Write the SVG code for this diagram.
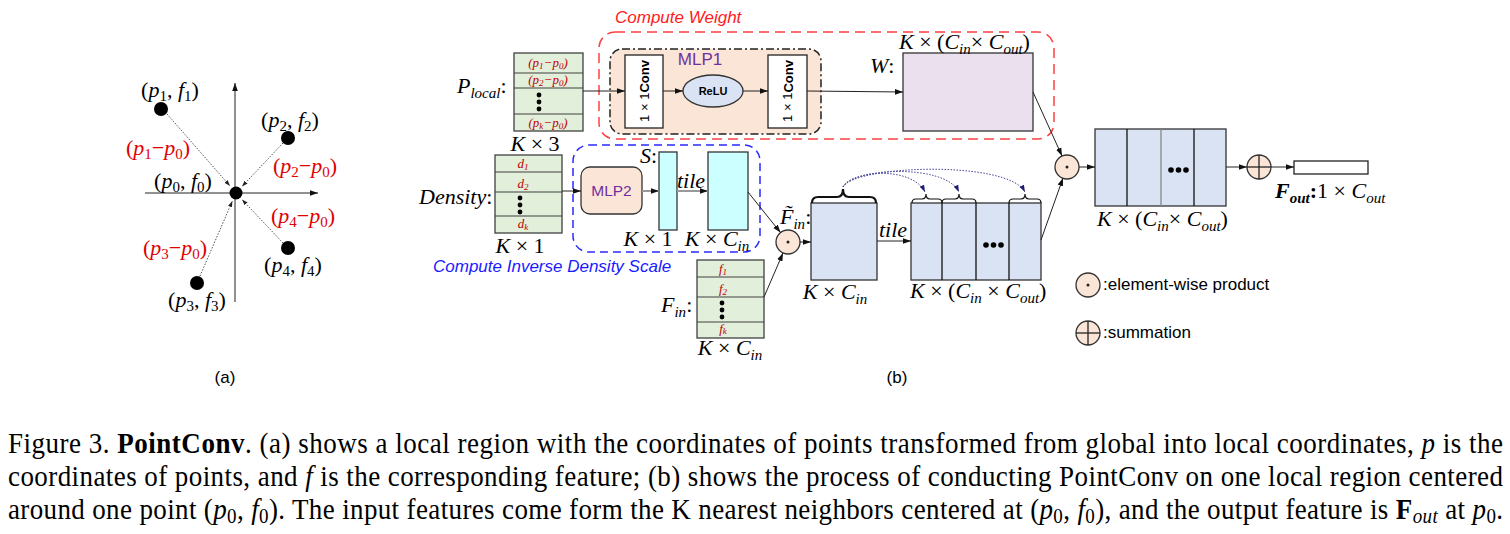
<svg xmlns="http://www.w3.org/2000/svg" width="1510" height="534" viewBox="0 0 1510 534">
<style>
.s{font-family:"Liberation Sans",Arial,sans-serif}
.m{font-family:"Liberation Serif","Times New Roman",serif;font-size:22px;fill:#000}
.i{font-style:italic}
.sb{font-size:15px}
.red{fill:#e00000}
.mx{fill:#e2efda;stroke:#404040;stroke-width:1.3}
.rl{stroke:#404040;stroke-width:1.1}
.mr{fill:#c00000;font-family:"Liberation Serif","Times New Roman",serif;font-style:italic;font-size:13px;text-anchor:middle}
.ar{stroke:#222;stroke-width:1;fill:none;marker-end:url(#ah)}
.ga{stroke:#999;stroke-width:2;fill:none;marker-end:url(#ah)}
.da{stroke:#555;stroke-width:1;stroke-dasharray:1.5 1.5;fill:none;marker-end:url(#sa)}
.cu{stroke:#45459a;stroke-width:1;stroke-dasharray:1.5 1.5;fill:none;marker-end:url(#na)}
.op{fill:#fbe5d6;stroke:#333;stroke-width:1.3}
.lb{fill:#dae3f3;stroke:#333;stroke-width:1.3}
.cy{fill:#ccffff;stroke:#333;stroke-width:1.3}
.dv{stroke:#111;stroke-width:1.3}
.br{fill:none;stroke:#111}
.cap{font-family:"Liberation Serif","Times New Roman",serif;font-size:27px;fill:#000}
.cs{font-size:19px}
</style>
<defs>
<marker id="ah" viewBox="0 0 10 10" refX="10" refY="5" markerWidth="8" markerHeight="8" markerUnits="userSpaceOnUse" orient="auto"><path d="M0,1.5 L10,5 L0,8.5 z" fill="#111"/></marker>
<marker id="sa" viewBox="0 0 10 10" refX="10" refY="5" markerWidth="6" markerHeight="6" markerUnits="userSpaceOnUse" orient="auto"><path d="M0,1.5 L10,5 L0,8.5 z" fill="#222"/></marker>
<marker id="na" viewBox="0 0 10 10" refX="10" refY="5" markerWidth="7" markerHeight="7" markerUnits="userSpaceOnUse" orient="auto"><path d="M0,1.5 L10,5 L0,8.5 z" fill="#1c1c70"/></marker>
</defs>
<rect width="1510" height="534" fill="#fff"/>

<!-- ===== (a) ===== -->
<g id="part-a">
  <g id="a-axes">
    <line class="ar" x1="235" y1="302" x2="235" y2="83" stroke="#444"/>
    <line class="ar" x1="145" y1="193" x2="318" y2="193" stroke="#444"/>
  </g>
  <g id="a-connectors">
    <line class="da" x1="167" y1="114" x2="230" y2="186"/>
    <line class="da" x1="283" y1="143" x2="242" y2="186.5"/>
    <line class="da" x1="283" y1="243" x2="242" y2="199.5"/>
    <line class="da" x1="200" y1="276" x2="232.4" y2="201"/>
  </g>
  <g id="a-p0"><circle cx="236" cy="193" r="6.5" fill="#000"/>
    <text class="m" x="183" y="188" text-anchor="middle">(<tspan class="i">p</tspan><tspan class="sb" dy="4">0</tspan><tspan dy="-4">, </tspan><tspan class="i">f</tspan><tspan class="sb" dy="4">0</tspan><tspan dy="-4">)</tspan></text></g>
  <g id="a-p1"><circle cx="161" cy="109" r="7" fill="#000"/>
    <text class="m" x="170" y="97" text-anchor="middle">(<tspan class="i">p</tspan><tspan class="sb" dy="4">1</tspan><tspan dy="-4">, </tspan><tspan class="i">f</tspan><tspan class="sb" dy="4">1</tspan><tspan dy="-4">)</tspan></text>
    <text class="m red" x="158" y="155" text-anchor="middle">(<tspan class="i">p</tspan><tspan class="sb" dy="4">1</tspan><tspan dy="-4">−</tspan><tspan class="i">p</tspan><tspan class="sb" dy="4">0</tspan><tspan dy="-4">)</tspan></text></g>
  <g id="a-p2"><circle cx="288" cy="138" r="7" fill="#000"/>
    <text class="m" x="290" y="127" text-anchor="middle">(<tspan class="i">p</tspan><tspan class="sb" dy="4">2</tspan><tspan dy="-4">, </tspan><tspan class="i">f</tspan><tspan class="sb" dy="4">2</tspan><tspan dy="-4">)</tspan></text>
    <text class="m red" x="305" y="173" text-anchor="middle">(<tspan class="i">p</tspan><tspan class="sb" dy="4">2</tspan><tspan dy="-4">−</tspan><tspan class="i">p</tspan><tspan class="sb" dy="4">0</tspan><tspan dy="-4">)</tspan></text></g>
  <g id="a-p4"><circle cx="288" cy="248" r="7" fill="#000"/>
    <text class="m" x="293" y="272" text-anchor="middle">(<tspan class="i">p</tspan><tspan class="sb" dy="4">4</tspan><tspan dy="-4">, </tspan><tspan class="i">f</tspan><tspan class="sb" dy="4">4</tspan><tspan dy="-4">)</tspan></text>
    <text class="m red" x="303" y="223" text-anchor="middle">(<tspan class="i">p</tspan><tspan class="sb" dy="4">4</tspan><tspan dy="-4">−</tspan><tspan class="i">p</tspan><tspan class="sb" dy="4">0</tspan><tspan dy="-4">)</tspan></text></g>
  <g id="a-p3"><circle cx="197" cy="283" r="7" fill="#000"/>
    <text class="m" x="197" y="307" text-anchor="middle">(<tspan class="i">p</tspan><tspan class="sb" dy="4">3</tspan><tspan dy="-4">, </tspan><tspan class="i">f</tspan><tspan class="sb" dy="4">3</tspan><tspan dy="-4">)</tspan></text>
    <text class="m red" x="175" y="255" text-anchor="middle">(<tspan class="i">p</tspan><tspan class="sb" dy="4">3</tspan><tspan dy="-4">−</tspan><tspan class="i">p</tspan><tspan class="sb" dy="4">0</tspan><tspan dy="-4">)</tspan></text></g>
  <text class="s" x="225" y="383" font-size="17" text-anchor="middle">(a)</text>
</g>

<!-- ===== (b) ===== -->
<g id="compute-weight-box">
  <rect x="599" y="32" width="455" height="107" rx="16" fill="none" stroke="#ff4040" stroke-width="1.5" stroke-dasharray="10 6"/>
  <text class="s i" x="615" y="23" font-size="17" fill="#ff1a1a">Compute Weight</text>
</g>
<g id="inverse-density-box">
  <rect x="573" y="145" width="187" height="107" rx="16" fill="none" stroke="#2a2aff" stroke-width="1.5" stroke-dasharray="8 5"/>
  <text class="s i" x="433" y="272" font-size="17" fill="#1a1aff">Compute Inverse Density Scale</text>
</g>

<g id="mlp1">
  <rect x="610" y="49" width="211" height="85" rx="12" fill="#fbe5d6" stroke="#222" stroke-width="1.5" stroke-dasharray="8 3 2 3"/>
  <text class="s" x="700" y="65" font-size="17" fill="#7030a0" text-anchor="middle">MLP1</text>
</g>
<g id="conv1">
  <rect x="625" y="55" width="38" height="73" fill="#fff" stroke="#222" stroke-width="1.3"/>
  <text class="s" transform="translate(644,91) rotate(-90)" font-size="13" text-anchor="middle" dominant-baseline="central">1 × 1<tspan font-weight="bold">Conv</tspan></text>
</g>
<g id="relu">
  <ellipse cx="713" cy="91" rx="30" ry="16" class="lb"/>
  <text class="s" x="713" y="95" font-size="11" font-weight="bold" text-anchor="middle">ReLU</text>
</g>
<g id="conv2">
  <rect x="768" y="55" width="39" height="73" fill="#fff" stroke="#222" stroke-width="1.3"/>
  <text class="s" transform="translate(787.5,91) rotate(-90)" font-size="13" text-anchor="middle" dominant-baseline="central">1 × 1<tspan font-weight="bold">Conv</tspan></text>
</g>
<g id="W">
  <rect x="903" y="53" width="130" height="78" fill="#ebe1ee" stroke="#333" stroke-width="1.3"/>
  <text class="m" x="870" y="73"><tspan class="i">W</tspan>:</text>
  <text class="m" x="899" y="49"><tspan class="i">K</tspan> × (<tspan class="i">C</tspan><tspan class="sb i" dy="5">in</tspan><tspan dy="-5">× </tspan><tspan class="i">C</tspan><tspan class="sb i" dy="5">out</tspan><tspan dy="-5">)</tspan></text>
</g>

<g id="P_local">
  <rect x="514" y="53" width="69" height="78" class="mx"/>
  <line class="rl" x1="514" y1="73" x2="583" y2="73"/>
  <line class="rl" x1="514" y1="88" x2="583" y2="88"/>
  <line class="rl" x1="514" y1="114" x2="583" y2="114"/>
  <text class="mr" x="548" y="67">(p<tspan font-size="9" dy="2">1</tspan><tspan dy="-2">−p</tspan><tspan font-size="9" dy="2">0</tspan><tspan dy="-2">)</tspan></text>
  <text class="mr" x="548" y="84">(p<tspan font-size="9" dy="2">2</tspan><tspan dy="-2">−p</tspan><tspan font-size="9" dy="2">0</tspan><tspan dy="-2">)</tspan></text>
  <text class="mr" x="548" y="127">(p<tspan font-size="9" dy="2">k</tspan><tspan dy="-2">−p</tspan><tspan font-size="9" dy="2">0</tspan><tspan dy="-2">)</tspan></text>
  <circle cx="539" cy="95" r="2.4"/><circle cx="539" cy="102" r="2.4"/><circle cx="539" cy="109" r="2.4"/>
  <text class="m" x="457" y="93"><tspan class="i">P</tspan><tspan class="sb i" dy="5">local</tspan><tspan dy="-5">:</tspan></text>
  <text class="m" x="535" y="151" text-anchor="middle"><tspan class="i">K</tspan> × 3</text>
</g>

<g id="Density">
  <rect x="495" y="155" width="67" height="78" class="mx"/>
  <line class="rl" x1="495" y1="172" x2="562" y2="172"/>
  <line class="rl" x1="495" y1="192" x2="562" y2="192"/>
  <line class="rl" x1="495" y1="216" x2="562" y2="216"/>
  <text class="mr" x="523" y="168">d<tspan font-size="9" dy="2">1</tspan></text>
  <text class="mr" x="523" y="188">d<tspan font-size="9" dy="2">2</tspan></text>
  <text class="mr" x="523" y="228">d<tspan font-size="9" dy="2">k</tspan></text>
  <circle cx="520" cy="198" r="2.4"/><circle cx="520" cy="205" r="2.4"/><circle cx="520" cy="212" r="2.4"/>
  <text class="m" x="419" y="204"><tspan class="i">Density</tspan>:</text>
  <text class="m" x="520" y="253" text-anchor="middle"><tspan class="i">K</tspan> × 1</text>
</g>

<g id="mlp2">
  <rect x="581" y="167" width="61" height="47" rx="9" class="op"/>
  <text class="s" x="611.5" y="196" font-size="15.5" fill="#7030a0" text-anchor="middle">MLP2</text>
</g>
<g id="S">
  <rect x="659" y="152" width="18" height="78" class="cy"/>
  <text class="m" x="640" y="163"><tspan class="i">S</tspan>:</text>
  <text class="m" x="648" y="246" text-anchor="middle"><tspan class="i">K</tspan> × 1</text>
</g>
<g id="S-tiled">
  <rect x="708" y="152" width="40" height="78" class="cy"/>
  <text class="m i" x="677" y="188">tile</text>
  <text class="m" x="717" y="246" text-anchor="middle"><tspan class="i">K</tspan> × <tspan class="i">C</tspan><tspan class="sb i" dy="5">in</tspan></text>
</g>

<g id="F_in">
  <rect x="697" y="260" width="67" height="78" class="mx"/>
  <line class="rl" x1="697" y1="277" x2="764" y2="277"/>
  <line class="rl" x1="697" y1="297" x2="764" y2="297"/>
  <line class="rl" x1="697" y1="322" x2="764" y2="322"/>
  <text class="mr" x="723" y="273">f<tspan font-size="9" dy="2">1</tspan></text>
  <text class="mr" x="723" y="293">f<tspan font-size="9" dy="2">2</tspan></text>
  <text class="mr" x="723" y="333">f<tspan font-size="9" dy="1">k</tspan></text>
  <circle cx="722" cy="303" r="2.4"/><circle cx="722" cy="310" r="2.4"/><circle cx="722" cy="317" r="2.4"/>
  <text class="m" x="661" y="312"><tspan class="i">F</tspan><tspan class="sb i" dy="5">in</tspan><tspan dy="-5">:</tspan></text>
  <text class="m" x="730" y="355" text-anchor="middle"><tspan class="i">K</tspan> × <tspan class="i">C</tspan><tspan class="sb i" dy="5">in</tspan></text>
</g>

<g id="prod1">
  <circle cx="788" cy="242" r="12" class="op"/><circle cx="788" cy="242" r="1.5" fill="#222"/>
</g>

<g id="F_tilde">
  <rect x="811" y="203" width="66" height="77" class="lb"/>
  <path class="br" stroke-width="2.2" d="M812,203 Q812,197 818,197 L837,197 Q843,197 843,189 Q843,197 849,197 L870,197 Q876,197 876,203"/>
  <text class="m" x="780" y="224"><tspan class="i">F̃</tspan><tspan class="sb i" dy="5">in</tspan><tspan dy="-5">:</tspan></text>
  <text class="m" x="835" y="299" text-anchor="middle"><tspan class="i">K</tspan> × <tspan class="i">C</tspan><tspan class="sb i" dy="5">in</tspan></text>
</g>

<g id="tiled">
  <rect x="911" y="203" width="130" height="77" class="lb"/>
  <line class="dv" x1="942" y1="203" x2="942" y2="280"/>
  <line class="dv" x1="976" y1="203" x2="976" y2="280"/>
  <line class="dv" x1="1009" y1="203" x2="1009" y2="280"/>
  <circle cx="986" cy="245" r="2.8"/><circle cx="993.5" cy="245" r="2.8"/><circle cx="1001" cy="245" r="2.8"/>
  <path class="br" stroke-width="1.2" d="M912,203 Q912,199 916,199 L922,199 Q926,199 926,194 Q926,199 930,199 L938,199 Q942,199 942,203"/>
  <path class="br" stroke-width="1.2" d="M942,203 Q942,199 946,199 L955,199 Q959,199 959,194 Q959,199 963,199 L972,199 Q976,199 976,203"/>
  <path class="br" stroke-width="1.2" d="M1009,203 Q1009,199 1013,199 L1021,199 Q1025,199 1025,194 Q1025,199 1029,199 L1037,199 Q1041,199 1041,203"/>
  <text class="m i" x="879" y="237">tile</text>
  <text class="m" x="910" y="298"><tspan class="i">K</tspan> × (<tspan class="i">C</tspan><tspan class="sb i" dy="5">in</tspan><tspan dy="-5"> × </tspan><tspan class="i">C</tspan><tspan class="sb i" dy="5">out</tspan><tspan dy="-5">)</tspan></text>
</g>

<g id="prod2">
  <circle cx="1067" cy="167" r="12" class="op"/><circle cx="1067" cy="167" r="1.5" fill="#222"/>
</g>

<g id="weighted">
  <rect x="1095" y="129" width="131" height="77" class="lb"/>
  <line class="dv" x1="1127" y1="129" x2="1127" y2="206"/>
  <line x1="1161" y1="129" x2="1161" y2="206" stroke="#888" stroke-width="1.3"/>
  <line class="dv" x1="1194" y1="129" x2="1194" y2="206"/>
  <circle cx="1171" cy="170" r="2.8"/><circle cx="1178.5" cy="170" r="2.8"/><circle cx="1186" cy="170" r="2.8"/>
  <text class="m" x="1097" y="226"><tspan class="i">K</tspan> × (<tspan class="i">C</tspan><tspan class="sb i" dy="5">in</tspan><tspan dy="-5">× </tspan><tspan class="i">C</tspan><tspan class="sb i" dy="5">out</tspan><tspan dy="-5">)</tspan></text>
</g>

<g id="sum">
  <circle cx="1259" cy="167" r="12" class="op"/>
  <line x1="1247" y1="167" x2="1271" y2="167" stroke="#222" stroke-width="1.3"/>
  <line x1="1259" y1="155" x2="1259" y2="179" stroke="#222" stroke-width="1.3"/>
</g>

<g id="F_out">
  <rect x="1294" y="161" width="74" height="13" fill="#fff" stroke="#222" stroke-width="1.3"/>
  <text class="m" x="1275" y="198"><tspan class="i" font-weight="bold">F</tspan><tspan class="sb i" font-weight="bold" dy="5">out</tspan><tspan dy="-5" font-weight="bold">:</tspan>1 × <tspan class="i">C</tspan><tspan class="sb i" dy="5">out</tspan></text>
</g>

<g id="legend">
  <circle cx="1088" cy="285" r="12" class="op"/><circle cx="1088" cy="285" r="1.5" fill="#222"/>
  <text class="s" x="1103" y="290" font-size="17">:element-wise product</text>
  <circle cx="1088" cy="333" r="12" class="op"/>
  <line x1="1076" y1="333" x2="1100" y2="333" stroke="#222" stroke-width="1.3"/>
  <line x1="1088" y1="321" x2="1088" y2="345" stroke="#222" stroke-width="1.3"/>
  <text class="s" x="1103" y="338" font-size="17">:summation</text>
</g>

<text class="s" x="897" y="383" font-size="17" text-anchor="middle">(b)</text>

<g id="connectors">
  <line class="ar" x1="583" y1="91" x2="625" y2="91"/>
  <line class="ar" x1="663" y1="91" x2="683" y2="91"/>
  <line class="ar" x1="743" y1="91" x2="768" y2="91"/>
  <line class="ar" x1="807" y1="91" x2="903" y2="92"/>
  <line class="ar" x1="1033" y1="92" x2="1062" y2="156"/>
  <line class="ar" x1="562" y1="191" x2="581" y2="191"/>
  <line class="ga" x1="642" y1="191" x2="659" y2="191"/>
  <line class="ga" x1="677" y1="191" x2="708" y2="191"/>
  <line class="ar" x1="748" y1="192" x2="780.5" y2="232.6"/>
  <line class="ar" x1="764" y1="297" x2="783" y2="253"/>
  <line class="ar" x1="800" y1="242" x2="811" y2="242"/>
  <line class="ar" x1="877" y1="241" x2="911" y2="241"/>
  <line class="ar" x1="1041" y1="240" x2="1063" y2="178"/>
  <line class="ar" x1="1079" y1="167" x2="1095" y2="167"/>
  <line class="ar" x1="1226" y1="167" x2="1247" y2="167"/>
  <line class="ar" x1="1271" y1="167" x2="1294" y2="167"/>
  <path class="cu" d="M843,187 C852,170 912,166 925,192"/>
  <path class="cu" d="M843,187 C852,168 945,163 959,192"/>
  <path class="cu" d="M843,187 C855,165 1008,160 1025,192"/>
</g>

<g id="caption">
  <text class="cap" transform="translate(8,453) scale(1,1.1)" x="0" y="0" textLength="1495" lengthAdjust="spacing">Figure 3. <tspan font-weight="bold">PointConv</tspan>.  (a) shows a local region with the coordinates of points transformed from global into local coordinates, <tspan font-style="italic">p</tspan> is the</text>
  <text class="cap" transform="translate(8,486) scale(1,1.1)" x="0" y="0" textLength="1495" lengthAdjust="spacing">coordinates of points, and <tspan font-style="italic">f</tspan> is the corresponding feature; (b) shows the process of conducting PointConv on one local region centered</text>
  <text class="cap" transform="translate(8,519) scale(1,1.1)" x="0" y="0" textLength="1495" lengthAdjust="spacing">around one point (<tspan font-style="italic">p</tspan><tspan class="cs" dy="4">0</tspan><tspan dy="-4">, </tspan><tspan font-style="italic">f</tspan><tspan class="cs" dy="4">0</tspan><tspan dy="-4">). The input features come form the K nearest neighbors centered at (</tspan><tspan font-style="italic">p</tspan><tspan class="cs" dy="4">0</tspan><tspan dy="-4">, </tspan><tspan font-style="italic">f</tspan><tspan class="cs" dy="4">0</tspan><tspan dy="-4">), and the output feature is </tspan><tspan font-weight="bold">F</tspan><tspan class="cs" font-style="italic" dy="4">out</tspan><tspan dy="-4"> at </tspan><tspan font-style="italic">p</tspan><tspan class="cs" dy="4">0</tspan><tspan dy="-4">.</tspan></text>
</g>
</svg>
